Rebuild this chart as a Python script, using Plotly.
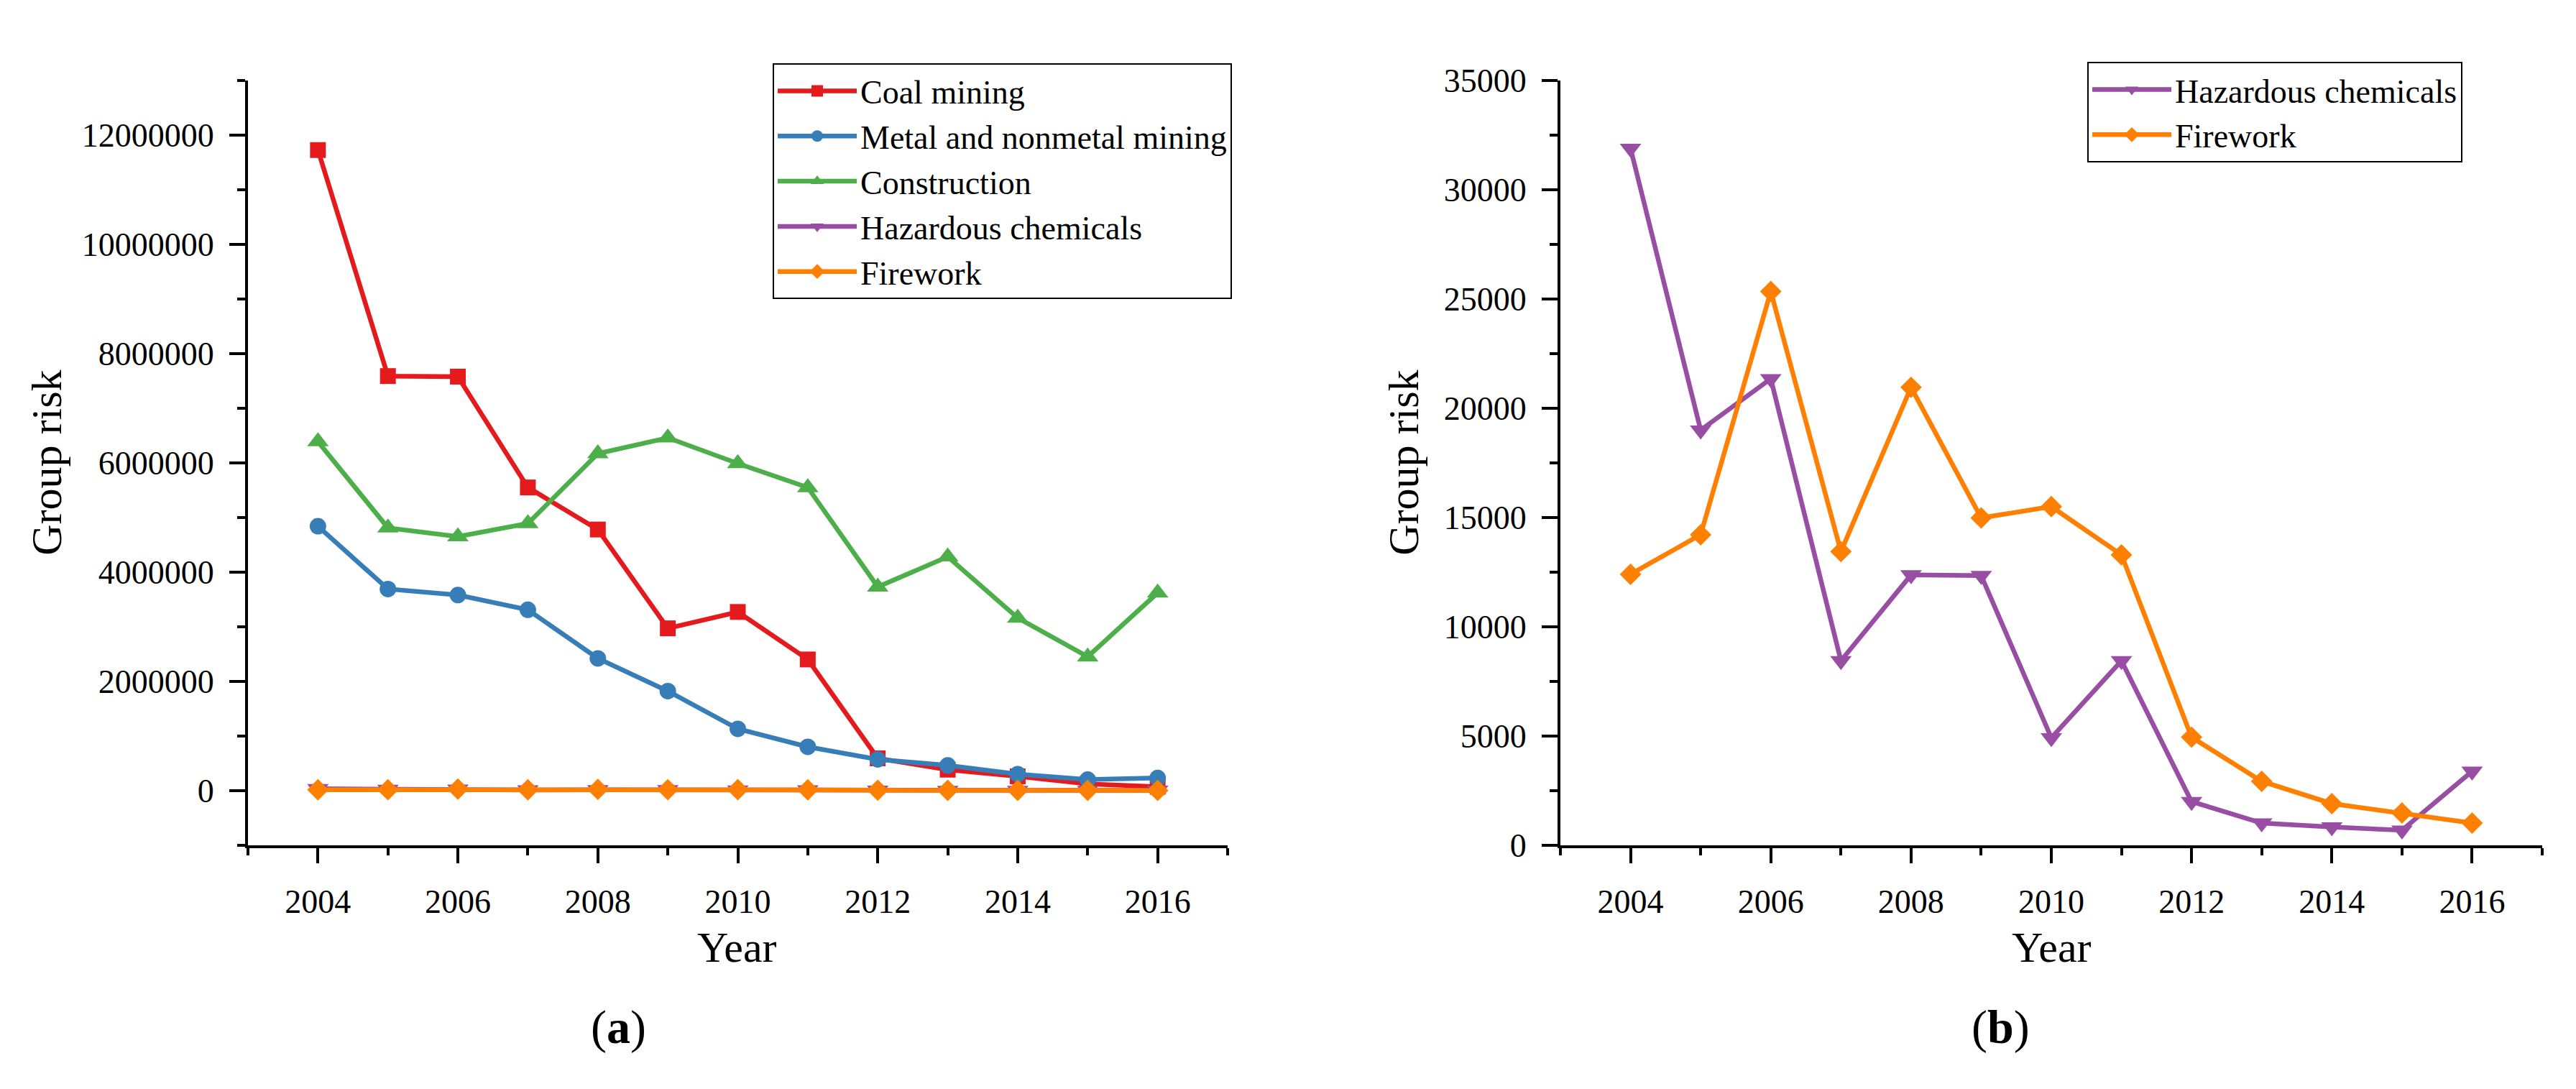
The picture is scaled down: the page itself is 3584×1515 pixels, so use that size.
import plotly.graph_objects as go

years = [2004, 2005, 2006, 2007, 2008, 2009, 2010, 2011, 2012, 2013, 2014, 2015, 2016]

coal_mining = [11730000, 7590000, 7580000, 5550000, 4780000, 2970000, 3270000, 2400000,
               590000, 380000, 260000, 120000, 70000]
metal_mining = [4840000, 3690000, 3580000, 3310000, 2420000, 1820000, 1130000, 800000,
                570000, 460000, 300000, 200000, 230000]
construction = [6390000, 4810000, 4650000, 4890000, 6170000, 6460000, 5990000, 5550000,
                3730000, 4280000, 3160000, 2450000, 3620000]
hazardous_chemicals = [31900, 19000, 21350, 8440, 12370, 12340, 4910, 8440,
                       1990, 1010, 830, 680, 3380]
firework = [12400, 14210, 25350, 13440, 20960, 14980, 15500, 13290,
            4940, 2920, 1900, 1470, 1010]

left_yticks = [0, 2000000, 4000000, 6000000, 8000000, 10000000, 12000000]
right_yticks = [0, 5000, 10000, 15000, 20000, 25000, 30000, 35000]
xticks = [2004, 2006, 2008, 2010, 2012, 2014, 2016]

FONT = "Liberation Serif"
W, H = 3584, 1515
colors = {"coal": "#E41A1C", "metal": "#377EB8", "cons": "#4DAF4A",
          "haz": "#984EA3", "fire": "#FF7F00"}

fig = go.Figure()

def add(x, y, name, color, symbol, size, xa, ya, legend, showlegend=True):
    fig.add_trace(go.Scatter(
        x=x, y=y, name=name, mode="lines+markers",
        line=dict(color=color, width=6.5),
        marker=dict(symbol=symbol, size=size, color=color),
        xaxis=xa, yaxis=ya, legend=legend, showlegend=showlegend))

add(years, coal_mining, "Coal mining", colors["coal"], "square", 22, "x", "y", "legend")
add(years, metal_mining, "Metal and nonmetal mining", colors["metal"], "circle", 23, "x", "y", "legend")
add(years, construction, "Construction", colors["cons"], "triangle-up", 26, "x", "y", "legend")
add(years, hazardous_chemicals, "Hazardous chemicals", colors["haz"], "triangle-down", 26, "x", "y", "legend")
add(years, firework, "Firework", colors["fire"], "diamond", 23, "x", "y", "legend")

add(years, hazardous_chemicals, "Hazardous chemicals", colors["haz"], "triangle-down", 26, "x2", "y2", "legend2")
add(years, firework, "Firework", colors["fire"], "diamond", 23, "x2", "y2", "legend2")

tickfont = dict(family=FONT, size=46, color="black")

def xaxis(domain, anchor):
    return dict(domain=domain, anchor=anchor, range=[2003, 2017], tickvals=xticks,
                ticks="outside", ticklen=21, tickwidth=4, tickcolor="black",
                showline=True, linecolor="black", linewidth=4, showgrid=False,
                zeroline=False, tickfont=tickfont, ticklabelstandoff=14,
                minor=dict(dtick=1, tick0=2003, ticks="outside", ticklen=10,
                           tickwidth=4, tickcolor="black", showgrid=False))

def yaxis(domain, anchor, rng, tickvals, minor_dtick):
    return dict(domain=domain, anchor=anchor, range=rng, tickvals=tickvals,
                tickformat=".0f", ticks="outside", ticklen=22, tickwidth=4,
                tickcolor="black", showline=True, linecolor="black", linewidth=4,
                showgrid=False, zeroline=False, tickfont=tickfont, ticklabelstandoff=12,
                minor=dict(dtick=minor_dtick, tick0=0, ticks="outside", ticklen=11,
                           tickwidth=4, tickcolor="black", showgrid=False))

ydom = [1 - 1182.5 / H, 1 - 82 / H]
fig.update_layout(
    width=W, height=H,
    margin=dict(l=0, r=0, t=0, b=0),
    paper_bgcolor="white", plot_bgcolor="white",
    font=dict(family=FONT, color="black"),
    xaxis=xaxis([337 / W, 1700 / W], "y"),
    yaxis=yaxis(ydom, "x", [-1000000, 13000000], left_yticks, 1000000),
    xaxis2=xaxis([2163 / W, 3529 / W], "y2"),
    yaxis2=yaxis(ydom, "x2", [0, 35000], right_yticks, 2500),
    legend=dict(x=1067 / W, y=1 - 57 / H, xanchor="left", yanchor="top",
                bordercolor="black", borderwidth=2, bgcolor="white",
                font=dict(family=FONT, size=46, color="black"),
                itemwidth=110, tracegroupgap=0),
    legend2=dict(x=2896 / W, y=1 - 55 / H, xanchor="left", yanchor="top",
                 bordercolor="black", borderwidth=2, bgcolor="white",
                 font=dict(family=FONT, size=46, color="black"),
                 itemwidth=110, tracegroupgap=0),
)

ann_font = dict(family=FONT, size=60, color="black")
annotations = [
    dict(text="Group risk", x=57 / W, y=1 - 632 / H, textangle=-90, font=ann_font),
    dict(text="Group risk", x=1945 / W, y=1 - 632 / H, textangle=-90, font=ann_font),
    dict(text="Year", x=1018 / W, y=1 - 1330 / H, font=ann_font),
    dict(text="Year", x=2846 / W, y=1 - 1330 / H, font=ann_font),
    dict(text="(<b>a</b>)", x=852 / W, y=1 - 1445 / H, font=dict(family=FONT, size=66, color="black")),
    dict(text="(<b>b</b>)", x=2775 / W, y=1 - 1445 / H, font=dict(family=FONT, size=66, color="black")),
]
for a in annotations:
    a.update(xref="paper", yref="paper", showarrow=False, xanchor="center", yanchor="middle")
fig.update_layout(annotations=annotations)

fig.write_html("out.html")
